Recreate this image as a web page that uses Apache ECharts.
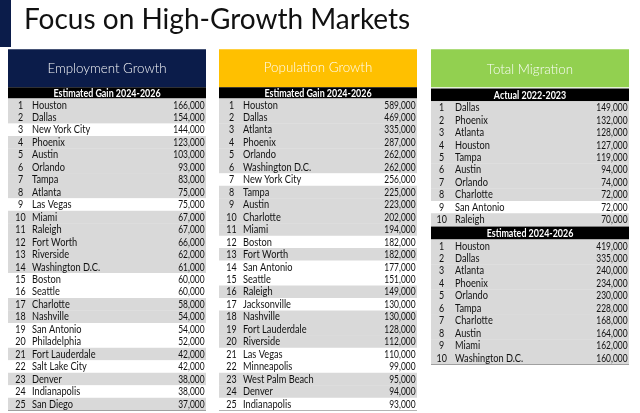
<!DOCTYPE html>
<html><head><meta charset="utf-8">
<script src="https://cdn.jsdelivr.net/npm/echarts@6/dist/echarts.min.js"></script>
<style>html,body{margin:0;padding:0;background:#fff}#c{width:640px;height:413px}</style>
</head><body><div id="c"></div>
<script>
// ---------- DATA ----------
const chartTitle = 'Focus on High-Growth Markets';
const panelTitles = ['Employment Growth', 'Population Growth', 'Total Migration'];
const subTitles = ['Estimated Gain 2024-2026', 'Estimated Gain 2024-2026', 'Actual 2022-2023', 'Estimated 2024-2026'];

const empCities = ['Houston','Dallas','New York City','Phoenix','Austin','Orlando','Tampa','Atlanta','Las Vegas','Miami','Raleigh','Fort Worth','Riverside','Washington D.C.','Boston','Seattle','Charlotte','Nashville','San Antonio','Philadelphia','Fort Lauderdale','Salt Lake City','Denver','Indianapolis','San Diego'];
const empValues = [166000,154000,144000,123000,103000,93000,83000,75000,75000,67000,67000,66000,62000,61000,60000,60000,58000,54000,54000,52000,42000,42000,38000,38000,37000];
const empShaded = [1,1,0,1,1,1,1,1,0,1,1,1,1,1,0,0,1,1,0,0,1,0,1,0,1];

const popCities = ['Houston','Dallas','Atlanta','Phoenix','Orlando','Washington D.C.','New York City','Tampa','Austin','Charlotte','Miami','Boston','Fort Worth','San Antonio','Seattle','Raleigh','Jacksonville','Nashville','Fort Lauderdale','Riverside','Las Vegas','Minneapolis','West Palm Beach','Denver','Indianapolis'];
const popValues = [589000,469000,335000,287000,262000,262000,256000,225000,223000,202000,194000,182000,182000,177000,151000,149000,130000,130000,128000,112000,110000,99000,95000,94000,93000];
const popShaded = [1,1,1,1,1,1,0,1,1,1,1,0,1,0,0,1,0,1,1,1,0,0,1,1,0];

const migActCities = ['Dallas','Phoenix','Atlanta','Houston','Tampa','Austin','Orlando','Charlotte','San Antonio','Raleigh'];
const migActValues = [149000,132000,128000,127000,119000,94000,74000,72000,72000,70000];
const migActShaded = [1,1,1,1,1,1,1,1,0,1];

const migEstCities = ['Houston','Dallas','Atlanta','Phoenix','Orlando','Tampa','Charlotte','Austin','Miami','Washington D.C.'];
const migEstValues = [419000,335000,240000,234000,230000,228000,168000,164000,162000,160000];
const migEstShaded = [1,1,1,1,1,1,1,1,1,1];

// ---------- STYLE / LAYOUT ----------
const FONT = 'Lato, "Noto Sans", sans-serif';
const NAVY = '#0b1c4a', YELLOW = '#ffc000', GREEN = '#92d050', GRAY = '#d9d9d9';
const ROW_H = 12.46;
const panels = [
  {x: 8,   w: 198, color: NAVY,   titleY: 68,  sub: 0},
  {x: 219, w: 198, color: YELLOW, titleY: 67,  sub: 1},
  {x: 431, w: 198, color: GREEN,  titleY: 69,  sub: 2}
];
const HEAD_TOP = 49.3, HEAD_BOT = 87.3;

const tables = [
  {cities: empCities, values: empValues, shaded: empShaded, panel: 0, top: 98.6},
  {cities: popCities, values: popValues, shaded: popShaded, panel: 1, top: 98.6},
  {cities: migActCities, values: migActValues, shaded: migActShaded, panel: 2, top: 101.2, rankOff: 10.7},
  {cities: migEstCities, values: migEstValues, shaded: migEstShaded, panel: 2, top: 239.6, rankOff: 10.7}
];

const grids = [], xAxes = [], yAxes = [], series = [];
tables.forEach((t, gi) => {
  const p = panels[t.panel];
  grids.push({left: p.x, top: t.top, width: p.w, height: ROW_H * t.cities.length});
  xAxes.push({gridIndex: gi, type: 'value', min: 0, max: 1, show: false});
  yAxes.push({gridIndex: gi, type: 'category', data: t.cities, inverse: true, show: false});
  const rankOff = t.rankOff || 12.5;
  series.push({
    type: 'custom', xAxisIndex: gi, yAxisIndex: gi, silent: true,
    data: t.values.map((v, i) => [0, i, v, t.shaded[i]]),
    encode: {x: 0, y: 1},
    renderItem: function (params, api) {
      const idx = api.value(1);
      const val = api.value(2);
      const sh = api.value(3);
      const c = api.coord([0, idx]);
      const h = api.size([0, 1])[1];
      const cs = params.coordSys;
      const cy = c[1];
      const txt = (x, s, align, sx) => ({
        type: 'text', x: x, y: cy + 0.3, scaleX: sx,
        style: {text: s, x: 0, y: 0, align: align, verticalAlign: 'middle',
                fontFamily: FONT, fontSize: 10.5, fill: '#111'}
      });
      return {
        type: 'group',
        children: [
          {type: 'rect', shape: {x: cs.x, y: cy - h / 2, width: cs.width, height: h + 0.3},
           style: {fill: sh ? GRAY : '#ffffff'}},
          txt(cs.x + rankOff, String(idx + 1), 'center', 0.85),
          txt(cs.x + 24, t.cities[idx], 'left', 0.88),
          txt(cs.x + cs.width - 1.5, val.toLocaleString('en-US'), 'right', 0.8)
        ]
      };
    }
  });
});

// ---------- DECORATION ----------
const graphic = [
  {type: 'rect', shape: {x: 0, y: 0, width: 11, height: 47}, style: {fill: NAVY}},
  {type: 'text', x: 24, y: 20, style: {text: chartTitle, fontFamily: FONT, fontSize: 28,
    fill: '#111', verticalAlign: 'middle'}}
];
panels.forEach((p, i) => {
  graphic.push({type: 'rect', shape: {x: p.x, y: HEAD_TOP, width: p.w, height: HEAD_BOT - HEAD_TOP}, style: {fill: p.color}});
  graphic.push({type: 'text', x: p.x + p.w / 2, y: p.titleY, scaleX: 0.92,
    style: {text: panelTitles[i], fontFamily: FONT, fontSize: 14.5, fontWeight: 300, fill: '#ffffff',
      align: 'center', verticalAlign: 'middle', opacity: 0.95}});
});
// sub-header black bars
const subBars = [
  {panel: 0, y: 87.3, h: 11.3, s: 0},
  {panel: 1, y: 87.3, h: 11.3, s: 1},
  {panel: 2, y: 88.5, h: 12.7, s: 2},
  {panel: 2, y: 226.4, h: 13.2, s: 3}
];
subBars.forEach(b => {
  const p = panels[b.panel];
  graphic.push({type: 'rect', shape: {x: p.x, y: b.y, width: p.w, height: b.h}, style: {fill: '#000'}});
  graphic.push({type: 'text', x: p.x + p.w / 2, y: b.y + b.h / 2 + 0.3, scaleX: 0.85,
    style: {text: subTitles[b.s], fontFamily: FONT, fontSize: 10.5, fontWeight: 'bold', fill: '#fff',
      align: 'center', verticalAlign: 'middle'}});
});
// bottom rules
[[0, 98.6 + 25 * ROW_H], [1, 98.6 + 25 * ROW_H], [2, 239.6 + 10 * ROW_H]].forEach(([pi, y]) => {
  const p = panels[pi];
  graphic.push({type: 'line', shape: {x1: p.x, y1: y, x2: p.x + p.w, y2: y}, style: {stroke: '#333', lineWidth: 1.2}});
});

const chart = echarts.init(document.getElementById('c'), null, {renderer: 'canvas'});
chart.setOption({
  animation: false,
  grid: grids, xAxis: xAxes, yAxis: yAxes, series: series, graphic: graphic
});
</script></body></html>
